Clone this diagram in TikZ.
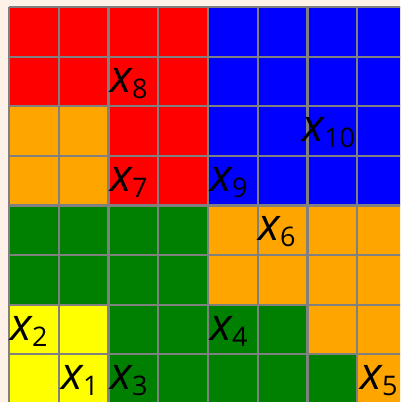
\documentclass[tikz,border=0pt]{standalone}
\usepackage{fontspec}
\newfontfamily\labfont{Open Sans}
\newcommand\xlab[1]{{\labfont\fontsize{45}{45}\selectfont\itshape x}\kern0.5pt\raisebox{-6pt}{\labfont\fontsize{27}{27}\selectfont #1}}
\definecolor{bgc}{HTML}{FDF1E8}
\definecolor{gridgray}{HTML}{808080}
\definecolor{R}{HTML}{FF0000}
\definecolor{O}{HTML}{FFA500}
\definecolor{B}{HTML}{0000FF}
\definecolor{G}{HTML}{008000}
\definecolor{Y}{HTML}{FFFF00}
\begin{document}
\begin{tikzpicture}[x=1pt,y=-1pt,
  gridline/.style={draw=gridgray,line width=2.2pt},
  lab/.style={anchor=base west,inner sep=0pt,outer sep=0pt}]
\useasboundingbox (0,0) rectangle (400,402);
\fill[bgc] (0,0) rectangle (400,402);
\begin{scope}
\clip (0,0) rectangle (400,402);
\foreach \r/\cols in {0/{R,R,R,R,B,B,B,B},1/{R,R,R,R,B,B,B,B},2/{O,O,R,R,B,B,B,B},3/{O,O,R,R,B,B,B,B},4/{G,G,G,G,O,O,O,O},5/{G,G,G,G,O,O,O,O},6/{Y,Y,G,G,G,G,O,O},7/{Y,Y,G,G,G,G,G,O}}{
  \foreach \c [count=\i from 0] in \cols {
    \fill[\c] ({9+\i*49.75},{7+\r*49.6}) rectangle ++(49.75,49.6);
  }
}
\foreach \i in {0,...,8}{
  \draw[gridline] ({9+\i*49.75},7) -- ({9+\i*49.75},410);
  \draw[gridline] (9,{7+\i*49.6}) -- (410,{7+\i*49.6});
}
\end{scope}
\node[lab] (x8) at (110,92) {\xlab{8}};
\node[lab] (x7) at (110,191) {\xlab{7}};
\node[lab] (x9) at (210,191) {\xlab{9}};
\node[lab] (x10) at (302,141) {\xlab{10}};
\node[lab] (x6) at (258,240) {\xlab{6}};
\node[lab] (x2) at (10,340) {\xlab{2}};
\node[lab] (x4) at (210,340) {\xlab{4}};
\node[lab] (x1) at (61,389) {\xlab{1}};
\node[lab] (x3) at (110,389) {\xlab{3}};
\node[lab] (x5) at (360,389) {\xlab{5}};
\end{tikzpicture}
\end{document}
